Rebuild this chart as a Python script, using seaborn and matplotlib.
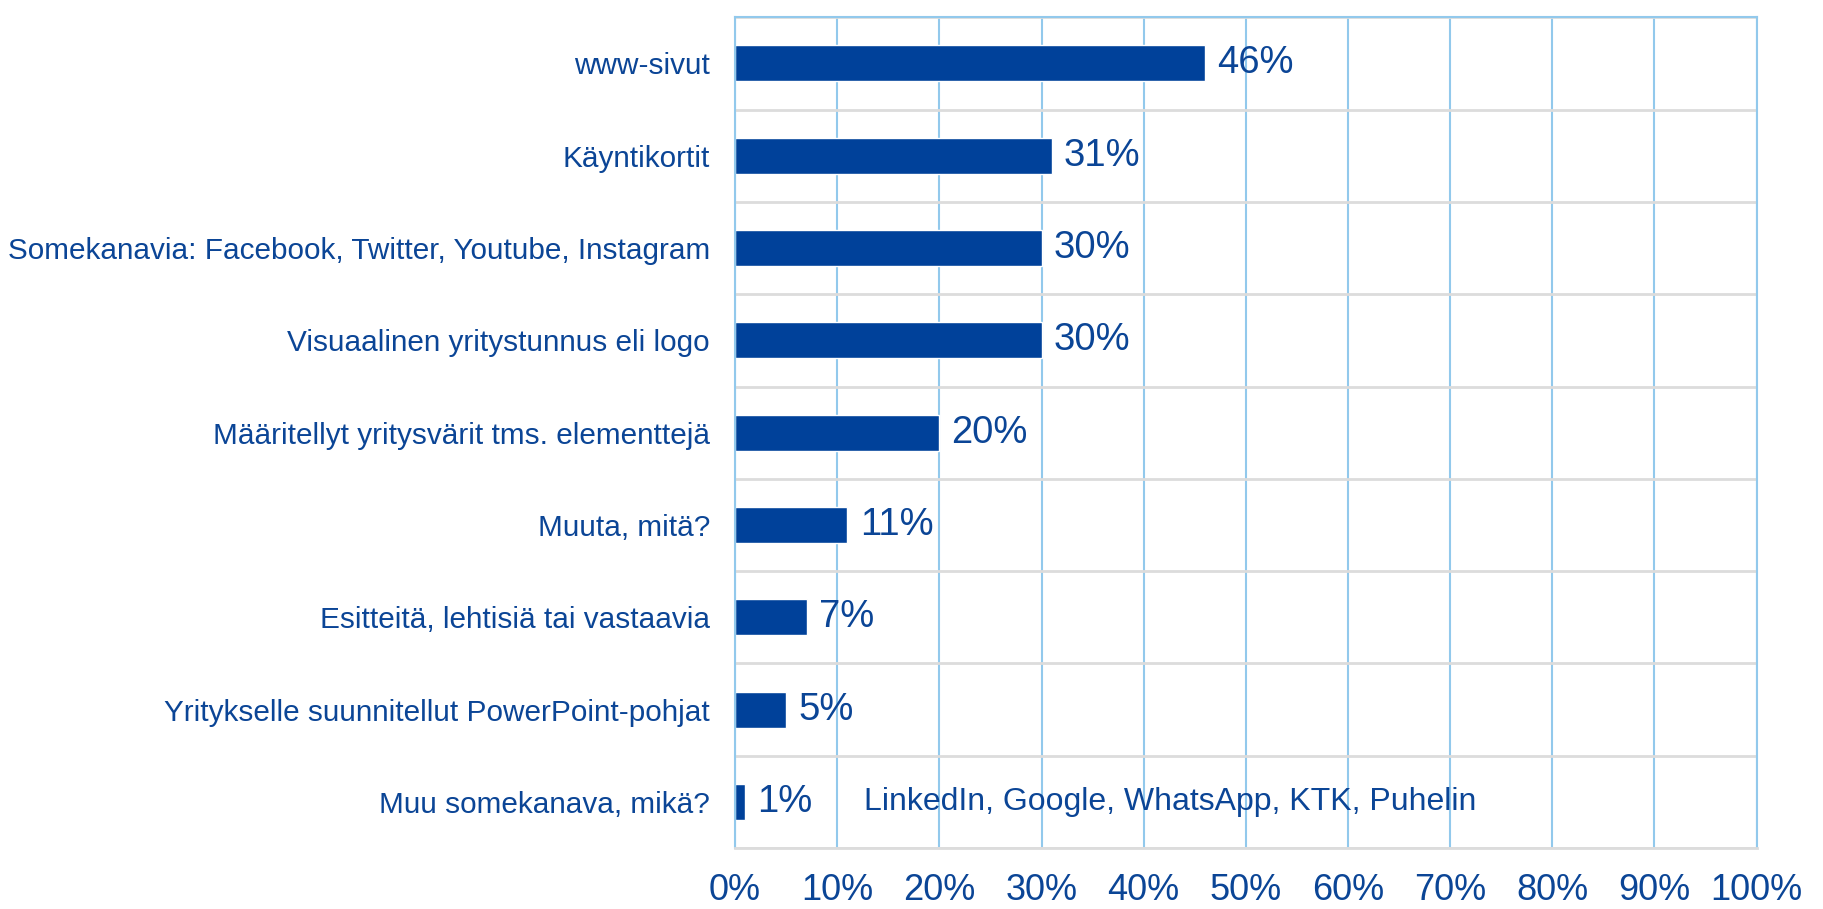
import pandas as pd
import matplotlib.pyplot as plt
import seaborn as sns
from matplotlib.ticker import FixedLocator

# data
categories = ['www-sivut', 'Käyntikortit',
              'Somekanavia: Facebook, Twitter, Youtube, Instagram',
              'Visuaalinen yritystunnus eli logo',
              'Määritellyt yritysvärit tms. elementtejä',
              'Muuta, mitä?', 'Esitteitä, lehtisiä tai vastaavia',
              'Yritykselle suunnitellut PowerPoint-pohjat',
              'Muu somekanava, mikä?']
values = [46, 31, 30, 30, 20, 11, 7, 5, 1]
note = 'LinkedIn, Google, WhatsApp, KTK, Puhelin'

df = pd.DataFrame({'kanava': categories, 'osuus': values})

sns.set_style('white')
plt.rcParams['font.family'] = ['Liberation Sans', 'DejaVu Sans']

bar_col = '#00419a'
txt_col = '#0b4596'
blue_grid = '#92c9ec'
gray_grid = '#dcdcdc'

fig = plt.figure(figsize=(18.24, 9.09), dpi=100)
ax = fig.add_axes([0.403, 0.067, 0.560, 0.914])

sns.barplot(data=df, x='osuus', y='kanava', orient='h', color=bar_col,
            width=0.39, saturation=1, ax=ax)

ax.set_xlim(0, 100)
ax.set_ylim(len(categories) - 0.5, -0.5)
ax.set_xticks(range(0, 101, 10))
ax.set_xticklabels([f'{v}%' for v in range(0, 101, 10)])
ax.set_xlabel('')
ax.set_ylabel('')

# vertical blue grid, horizontal gray grid between rows
ax.xaxis.grid(True, color=blue_grid, lw=1.5)
ax.yaxis.set_minor_locator(FixedLocator([i - 0.5 for i in range(len(categories) + 1)]))
ax.yaxis.grid(True, which='minor', color=gray_grid, lw=2)
ax.yaxis.grid(False, which='major')
ax.set_axisbelow(True)

ax.tick_params(axis='y', which='major', length=0, pad=18, labelsize=21.4, labelcolor=txt_col)
ax.tick_params(axis='y', which='minor', length=7, width=1.5, color=blue_grid, direction='out')
ax.tick_params(axis='x', length=0, pad=18, labelsize=26, labelcolor=txt_col)

for side in ['left', 'top', 'right']:
    ax.spines[side].set_color(blue_grid)
    ax.spines[side].set_linewidth(1.5)
ax.spines['bottom'].set_color(gray_grid)
ax.spines['bottom'].set_linewidth(2)

for i, v in enumerate(values):
    ax.text(v + 1.2, i, f'{v}%', va='center', ha='left', fontsize=27.5, color=txt_col)

ax.text(12.6, len(categories) - 1, note, va='center', ha='left', fontsize=23, color=txt_col)

fig.savefig('out.png', dpi=100)
